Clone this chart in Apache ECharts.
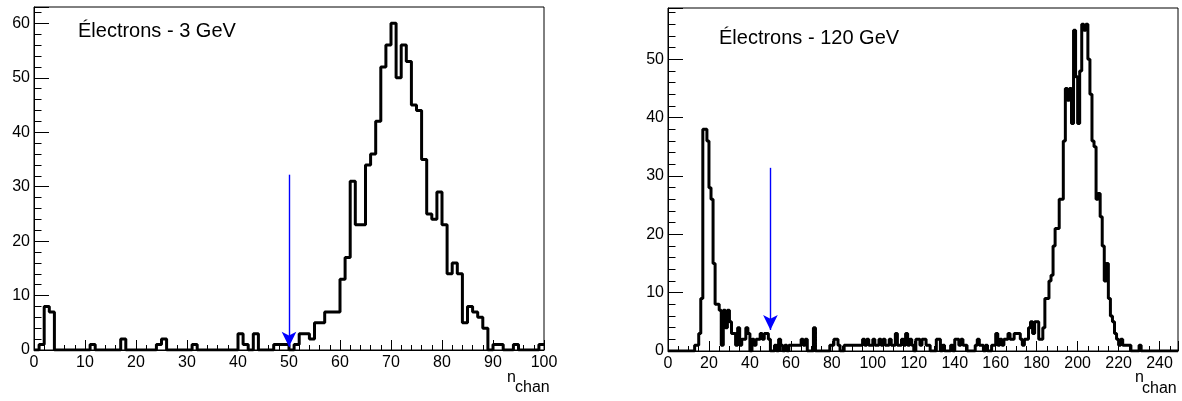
<!DOCTYPE html>
<html>
<head>
<meta charset="utf-8">
<script src="https://cdn.jsdelivr.net/npm/echarts@6/dist/echarts.min.js"></script>
<style>
html,body{margin:0;padding:0;background:#fff;}
#chart{width:1182px;height:401px;}
</style>
</head>
<body>
<div id="chart"></div>
<script>
// ---- data ----
const titles = ['Électrons - 3 GeV', 'Électrons - 120 GeV'];
const xMax3 = 100, xMax120 = 249;
const yMax3 = 63, yMax120 = 58.8;
const cutValue = 50;
// counts per unit-width bin (bin k covers [k, k+1))
const counts3GeV = [
  0,1,8,7,0,0,0,0,0,0,
  0,1,0,0,0,0,0,2,0,0,
  0,0,0,0,1,2,0,0,0,0,
  0,1,0,0,0,0,0,0,0,0,
  3,1,0,3,0,0,0,1,1,1,
  0,1,3,3,2,5,5,7,7,7,
  13,17,31,23,23,34,36,42,52,56,
  60,50,56,53,45,44,35,25,24,29,
  23,14,16,14,5,8,7,6,4,0,
  1,1,0,0,1,0,0,0,0,1
];
const counts120GeV = [
  0,0,0,0,0,0,0,0,0,0,
  0,0,0,1,1,3,9,38,38,36,
  28,26,15,8,8,7,1,7,4,7,
  5,3,3,1,4,1,2,2,4,3,
  0,2,1,2,2,3,2,3,3,2,
  0,0,1,0,2,1,0,1,0,1,
  1,1,1,1,1,2,1,2,0,0,
  0,4,0,0,0,0,0,0,0,1,
  1,2,2,1,0,0,1,1,1,1,
  1,1,1,1,1,2,1,2,1,1,
  2,1,1,2,1,2,1,1,2,1,
  1,3,1,1,2,1,3,1,2,1,
  0,2,2,1,2,2,1,1,0,0,
  0,2,2,0,1,0,0,0,1,0,
  2,2,1,2,1,1,0,0,0,0,
  1,2,1,1,0,1,0,0,1,1,
  3,1,2,1,2,2,3,2,2,3,
  3,3,2,1,2,2,4,5,3,5,
  5,2,2,4,9,9,12,13,18,21,
  21,26,26,36,45,43,45,39,55,47,
  39,48,56,55,56,50,44,36,35,26,
  27,23,18,12,15,9,6,5,3,2,
  1,2,1,1,1,1,0,0,0,0,
  1,0,0,0,0,0,0,0,0,0,
  0,0,0,0,0,0,0,0,0
];
const arrow3 = [32.2, 0.6];
const arrow120 = [31.4, 3.6];

// ---- helpers ----
function stepPoints(counts){
  const pts = counts.map((c,i)=>[i, c]);
  pts.push([counts.length, counts[counts.length-1]]);
  return pts;
}
const FONT = 'Liberation Sans, Arial, Helvetica, sans-serif';
function xAxisDef(grid, max, interval, len, labels){
  return {
    type:'value', gridIndex:grid, min:0, max:max, interval:interval, position:'bottom',
    axisLine:{show:labels, onZero:false, lineStyle:{color:'#000', width:1}},
    axisTick:{show:true, inside:true, length:len, lineStyle:{color:'#000', width:1}},
    axisLabel:{show:labels, color:'#000', fontSize:16, fontFamily:FONT, margin:5,
      formatter:v => (v % interval === 0 ? String(v) : '')},
    splitLine:{show:false}
  };
}
function yAxisDef(grid, max, interval, len, labels){
  return {
    type:'value', gridIndex:grid, min:0, max:max, interval:interval, position:'left',
    axisLine:{show:labels, onZero:false, lineStyle:{color:'#000', width:1}},
    axisTick:{show:true, inside:true, length:len, lineStyle:{color:'#000', width:1}},
    axisLabel:{show:labels, color:'#000', fontSize:16, fontFamily:FONT, margin:4,
      formatter:v => (v % interval === 0 ? String(v) : '')},
    splitLine:{show:false}
  };
}
function histSeries(counts, xi, yi, arrow){
  return {
    type:'line', xAxisIndex:xi, yAxisIndex:yi, data:stepPoints(counts), step:'end',
    showSymbol:false, symbol:'none', clip:true,
    lineStyle:{color:'#000', width:3}, z:3,
    markLine:{
      silent:true, animation:false,
      symbol:['none','arrow'], symbolSize:[11,15],
      label:{show:false},
      lineStyle:{color:'#0000ff', width:1.4, type:'solid'},
      data:[[{coord:[cutValue, arrow[0]]},{coord:[cutValue, arrow[1]]}]]
    }
  };
}

const chart = echarts.init(document.getElementById('chart'), null, {renderer:'canvas'});
chart.setOption({
  animation:false,
  backgroundColor:'#fff',
  grid:[
    {left:34, top:7, width:510, height:343, show:true, borderColor:'#000', borderWidth:1, backgroundColor:'transparent'},
    {left:668, top:8, width:510, height:343, show:true, borderColor:'#000', borderWidth:1, backgroundColor:'transparent'}
  ],
  xAxis:[
    xAxisDef(0, xMax3, 10, 10, true),
    xAxisDef(0, xMax3, 2, 5, false),
    xAxisDef(1, xMax120, 20, 10, true),
    xAxisDef(1, xMax120, 5, 5, false)
  ],
  yAxis:[
    yAxisDef(0, yMax3, 10, 15, true),
    yAxisDef(0, yMax3, 2, 7.5, false),
    yAxisDef(1, yMax120, 10, 15, true),
    yAxisDef(1, yMax120, 2, 7.5, false)
  ],
  series:[
    histSeries(counts3GeV, 0, 0, arrow3),
    histSeries(counts120GeV, 2, 2, arrow120)
  ],
  graphic:[
    {type:'text', x:78, y:31, style:{text:titles[0], font:'20px '+FONT, fill:'#000', verticalAlign:'middle'}},
    {type:'text', x:719, y:38, style:{text:titles[1], font:'20px '+FONT, fill:'#000', verticalAlign:'middle'}},
    {type:'text', x:507, y:378, style:{text:'n', font:'16px '+FONT, fill:'#000', verticalAlign:'middle'}},
    {type:'text', x:515, y:388, style:{text:'chan', font:'16px '+FONT, fill:'#000', verticalAlign:'middle'}},
    {type:'text', x:1135, y:378, style:{text:'n', font:'16px '+FONT, fill:'#000', verticalAlign:'middle'}},
    {type:'text', x:1142, y:389, style:{text:'chan', font:'16px '+FONT, fill:'#000', verticalAlign:'middle'}}
  ]
});
</script>
</body>
</html>
